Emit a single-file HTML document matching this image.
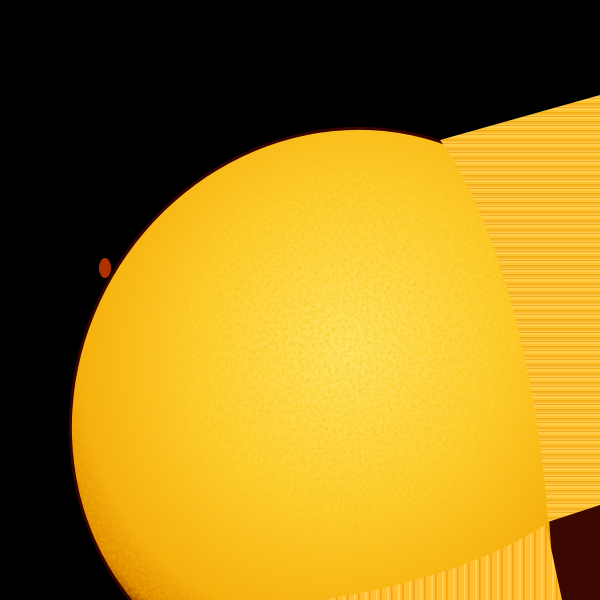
<!DOCTYPE html>
<html><head><meta charset="utf-8"><style>
html,body{margin:0;padding:0;background:#000;width:600px;height:600px;overflow:hidden}
svg{display:block}
</style></head><body>
<svg width="600" height="600" viewBox="0 0 600 600">
<defs>
  <clipPath id="frame"><rect width="600" height="600"/></clipPath>
  <radialGradient id="disk" cx="0.45" cy="0.4" r="0.58">
    <stop offset="0" stop-color="#ffe468"/>
    <stop offset="0.5" stop-color="#ffcc30"/>
    <stop offset="0.85" stop-color="#f7ae10"/>
    <stop offset="0.97" stop-color="#e08a00"/>
    <stop offset="1" stop-color="#b05800"/>
  </radialGradient>
  <linearGradient id="streakG" x1="0" y1="0" x2="0" y2="1">
    <stop offset="0" stop-color="#ffb820"/>
    <stop offset="0.5" stop-color="#ffc838"/>
    <stop offset="1" stop-color="#f5a818"/>
  </linearGradient>
  <pattern id="stripes" width="600" height="9" patternUnits="userSpaceOnUse">
    <rect width="600" height="9" fill="url(#streakG)"/>
    <rect y="0" width="600" height="2" fill="#ffd860" opacity="0.6"/>
    <rect y="4" width="600" height="1.5" fill="#e89400" opacity="0.5"/>
    <rect y="7" width="600" height="1" fill="#ffe080" opacity="0.5"/>
  </pattern>
  <pattern id="vstripes" width="11" height="100" patternUnits="userSpaceOnUse">
    <rect width="11" height="100" fill="#ffbf30"/>
    <rect x="2" width="2" height="100" fill="#ffd860" opacity="0.7"/>
    <rect x="6" width="1.5" height="100" fill="#e89000" opacity="0.6"/>
  </pattern>
  <filter id="gran" x="0" y="0" width="100%" height="100%">
    <feTurbulence type="fractalNoise" baseFrequency="0.3" numOctaves="2" seed="3" result="n"/>
    <feColorMatrix in="n" type="matrix" values="0 0 0 0 0.85  0 0 0 0 0.55  0 0 0 0 0  0 0 0 -2 1.3" result="c"/>
    <feComposite in="c" in2="SourceGraphic" operator="in"/>
  </filter>
</defs>
<g clip-path="url(#frame)">
<rect width="600" height="600" fill="#000"/>
<g transform="rotate(30 342 410)">
  <ellipse cx="342" cy="410" rx="268" ry="288" fill="#3a0500"/>
  <ellipse cx="342" cy="410" rx="265" ry="285" fill="url(#disk)"/>
  <ellipse cx="342" cy="410" rx="265" ry="285" fill="#fff" filter="url(#gran)" opacity="0.45"/>
</g>
<polygon points="548,505 600,495 600,600 555,600" fill="#3a0800"/>
<path d="M440,140 L600,95 L600,505 L548,522 C540,400 505,230 440,140 Z" fill="url(#stripes)"/>
<path d="M320,600 C420,585 500,555 546,524 L562,600 Z" fill="url(#vstripes)"/>
<ellipse cx="105" cy="268" rx="6" ry="10" fill="#b03000"/>
</g>
</svg>
</body></html>
